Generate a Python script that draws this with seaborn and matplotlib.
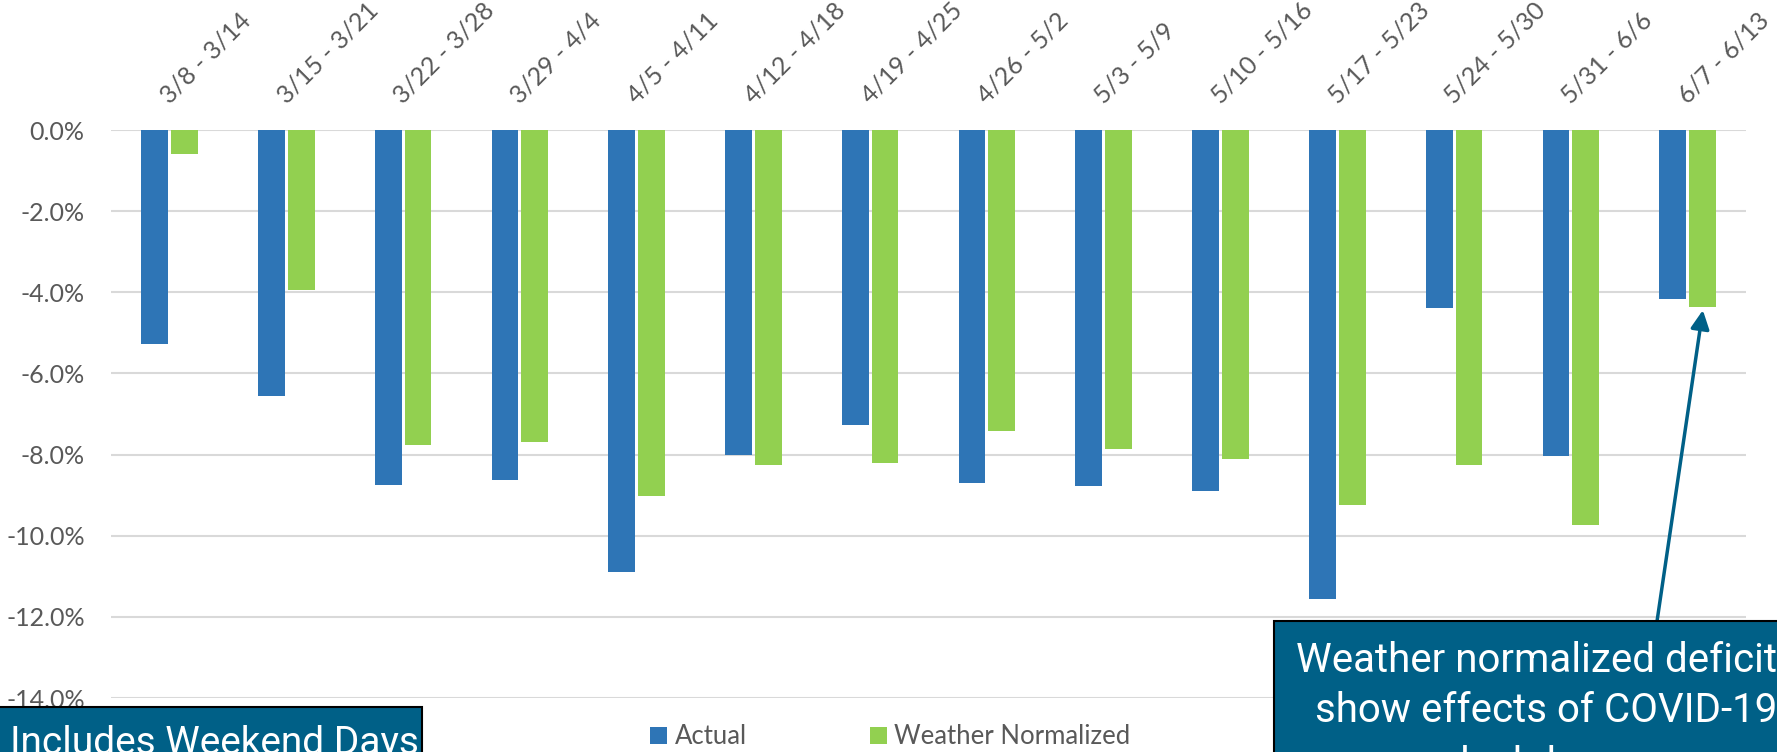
import numpy as np
import pandas as pd
import seaborn as sns
import matplotlib.pyplot as plt
from matplotlib.patches import Rectangle, Patch
from matplotlib.ticker import FuncFormatter

# Data
weeks = ["3/8 - 3/14", "3/15 - 3/21", "3/22 - 3/28", "3/29 - 4/4", "4/5 - 4/11",
         "4/12 - 4/18", "4/19 - 4/25", "4/26 - 5/2", "5/3 - 5/9", "5/10 - 5/16",
         "5/17 - 5/23", "5/24 - 5/30", "5/31 - 6/6", "6/7 - 6/13"]
actual = [-5.27, -6.55, -8.75, -8.63, -10.90, -8.02, -7.28, -8.70, -8.78, -8.90,
          -11.56, -4.39, -8.03, -4.16]
weather_norm = [-0.60, -3.95, -7.76, -7.68, -9.01, -8.25, -8.21, -7.42, -7.87, -8.12,
                -9.25, -8.26, -9.73, -4.36]
series_names = ["Actual", "Weather Normalized"]
y_ticks = [0, -2, -4, -6, -8, -10, -12, -14]

colors = ["#2E75B6", "#92D050"]
box_color = "#006087"
label_gray = "#595959"

df = pd.DataFrame({
    "week": weeks * 2,
    "value": actual + weather_norm,
    "series": [series_names[0]] * len(weeks) + [series_names[1]] * len(weeks),
})

sns.set_theme(style="white")
plt.rcParams["font.family"] = ["Lato", "DejaVu Sans"]
plt.rcParams["axes.unicode_minus"] = False

fig = plt.figure(figsize=(17.77, 7.52), dpi=100)
ax = fig.add_axes([0.0625, 0.0718, 0.9201, 0.7553])

sns.barplot(data=df, x="week", y="value", hue="series", palette=colors,
            width=0.51, gap=0.1, saturation=1, linewidth=0, ax=ax)

ax.set_ylim(-14, 0)
ax.set_xlim(-0.5, len(weeks) - 0.5)
ax.set_yticks(y_ticks)
ax.yaxis.set_major_formatter(FuncFormatter(lambda v, p: f"{v:.1f}%"))
ax.set_xlabel("")
ax.set_ylabel("")
ax.grid(axis="y", color="#D9D9D9", linewidth=1.5)
ax.set_axisbelow(True)
for s in ax.spines.values():
    s.set_visible(False)

ax.xaxis.tick_top()
ax.tick_params(axis="x", length=0, pad=18, labelsize=18, labelcolor=label_gray)
ax.tick_params(axis="y", length=0, pad=19, labelsize=18, labelcolor=label_gray)
plt.setp(ax.get_xticklabels(), rotation=45, ha="left", va="baseline",
         rotation_mode="anchor")

# legend under the plot
ax.get_legend().remove()
handles = [Patch(facecolor=c, edgecolor="none") for c in colors]
fig.legend(handles, series_names, loc="center", bbox_to_anchor=(0.501, 0.02),
           ncol=2, frameon=False, fontsize=18.5, handlelength=0.65, handleheight=0.65,
           handletextpad=0.3, columnspacing=4.8, labelcolor=label_gray)

# text boxes (cut by the figure edge as in the original slide)
box_font = ["Roboto", "DejaVu Sans"]
left_box = Rectangle((-0.01, -0.05), 0.2474, 0.11, transform=fig.transFigure,
                     facecolor=box_color, edgecolor="black", linewidth=1.5, zorder=5)
fig.add_artist(left_box)
fig.text(0.0056, -0.003, "Includes Weekend Days", color="white", fontsize=28,
         family=box_font, ha="left", va="baseline", zorder=6)

right_box = Rectangle((0.7169, -0.05), 0.3, 0.2242, transform=fig.transFigure,
                      facecolor=box_color, edgecolor="black", linewidth=1.5, zorder=5)
fig.add_artist(right_box)
for txt, yb in [("Weather normalized deficits", 0.1064),
                ("show effects of COVID-19", 0.0399),
                ("lockdown", -0.0320)]:
    fig.text(0.8703, yb, txt, color="white", fontsize=29, family=box_font,
             ha="center", va="baseline", zorder=6)

# arrow from the box to the last weather-normalized bar
ax.annotate("", xy=(len(weeks) - 1 + 0.13, weather_norm[-1] - 0.08), xycoords="data",
            xytext=(0.9325, 0.1742), textcoords="figure fraction",
            arrowprops=dict(arrowstyle="-|>", color=box_color, lw=2.5,
                            mutation_scale=28, shrinkA=0, shrinkB=0),
            annotation_clip=False, zorder=7)

fig.savefig("out.png", dpi=100)
